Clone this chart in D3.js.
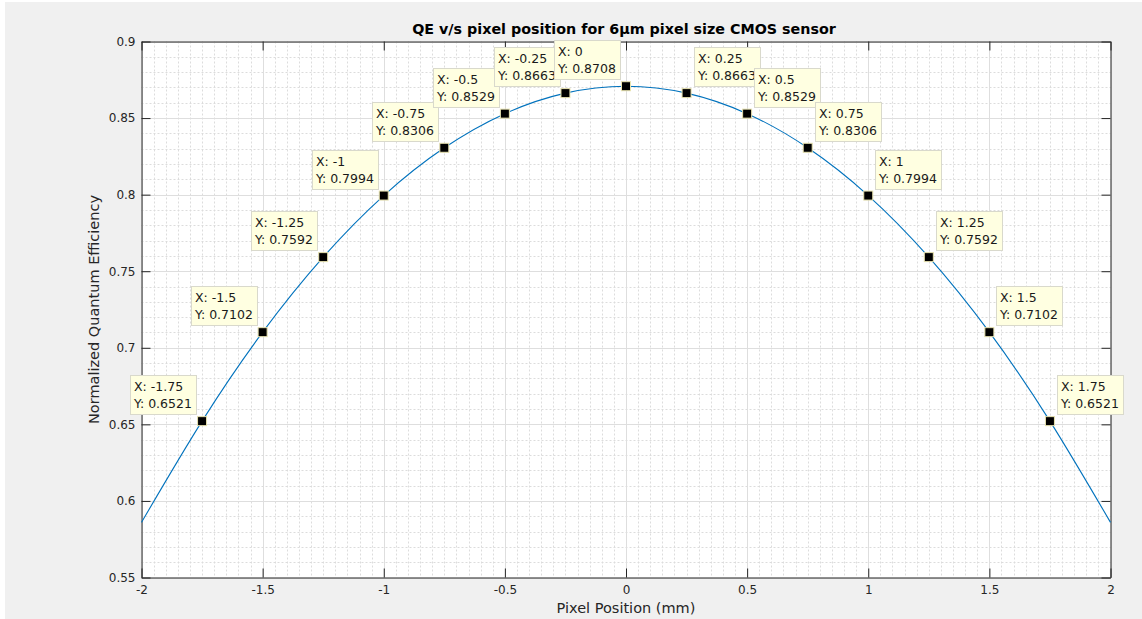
<!DOCTYPE html>
<html>
<head>
<meta charset="utf-8">
<script src="https://cdn.jsdelivr.net/npm/d3@7"></script>
<style>
  body { margin: 0; background: #fff; }
  text { font-family: "DejaVu Sans", sans-serif; }
</style>
</head>
<body>
<div id="chart"></div>
<script>
// curve samples (ends estimated)
let xVals = [-2, -1.75, -1.5, -1.25, -1, -0.75, -0.5, -0.25, 0, 0.25, 0.5, 0.75, 1, 1.25, 1.5, 1.75, 2];
let yVals = [0.586, 0.6521, 0.7102, 0.7592, 0.7994, 0.8306, 0.8529, 0.8663, 0.8708, 0.8663, 0.8529, 0.8306, 0.7994, 0.7592, 0.7102, 0.6521, 0.586];
// data tips shown on the figure
let tipX = [-1.75, -1.5, -1.25, -1, -0.75, -0.5, -0.25, 0, 0.25, 0.5, 0.75, 1, 1.25, 1.5, 1.75];
let tipY = [0.6521, 0.7102, 0.7592, 0.7994, 0.8306, 0.8529, 0.8663, 0.8708, 0.8663, 0.8529, 0.8306, 0.7994, 0.7592, 0.7102, 0.6521];
let xTicks = [-2, -1.5, -1, -0.5, 0, 0.5, 1, 1.5, 2];
let yTicks = [0.55, 0.6, 0.65, 0.7, 0.75, 0.8, 0.85, 0.9];

let W = 1142, H = 619;
let pLeft = 141.5, pRight = 1110.5, pTop = 41.5, pBottom = 577.5;

let svg = d3.select('#chart').append('svg')
    .attr('width', W)
    .attr('height', H);

svg.append('rect')
    .attr('x', 5).attr('y', 2)
    .attr('width', W - 5).attr('height', H - 2)
    .attr('fill', '#f0f0f0');

let x = d3.scaleLinear().domain([-2, 2]).range([pLeft, pRight]);
let y = d3.scaleLinear().domain([0.55, 0.9]).range([pBottom, pTop]);

svg.append('rect')
    .attr('x', pLeft).attr('y', pTop)
    .attr('width', pRight - pLeft).attr('height', pBottom - pTop)
    .attr('fill', '#fff');

// minor grid
let xMinor = d3.range(-2, 2.0001, 0.05).filter(d => Math.abs(d * 2 - Math.round(d * 2)) > 1e-6);
let yMinor = d3.range(0.55, 0.9001, 0.01).filter(d => Math.abs(d * 20 - Math.round(d * 20)) > 1e-6);
let grid = svg.append('g');
xMinor.forEach(function (d) {
    grid.append('line')
        .attr('x1', Math.round(x(d)) + 0.5).attr('x2', Math.round(x(d)) + 0.5)
        .attr('y1', pTop).attr('y2', pBottom)
        .attr('stroke', '#dcdcdc').attr('stroke-dasharray', '2,2');
});
yMinor.forEach(function (d) {
    grid.append('line')
        .attr('y1', Math.round(y(d)) + 0.5).attr('y2', Math.round(y(d)) + 0.5)
        .attr('x1', pLeft).attr('x2', pRight)
        .attr('stroke', '#dcdcdc').attr('stroke-dasharray', '2,2');
});
// major grid
xTicks.forEach(function (d) {
    grid.append('line')
        .attr('x1', Math.round(x(d)) + 0.5).attr('x2', Math.round(x(d)) + 0.5)
        .attr('y1', pTop).attr('y2', pBottom)
        .attr('stroke', '#dedede');
});
yTicks.forEach(function (d) {
    grid.append('line')
        .attr('y1', Math.round(y(d)) + 0.5).attr('y2', Math.round(y(d)) + 0.5)
        .attr('x1', pLeft).attr('x2', pRight)
        .attr('stroke', '#dedede');
});

// axes (ticks pointing inward, box on all sides)
let fmt = d => String(+d.toFixed(2));
let axB = svg.append('g').attr('transform', 'translate(0,' + pBottom + ')')
    .call(d3.axisBottom(x).tickValues(xTicks).tickFormat(fmt).tickSizeInner(-9).tickSizeOuter(0).tickPadding(8));
let axT = svg.append('g').attr('transform', 'translate(0,' + pTop + ')')
    .call(d3.axisTop(x).tickValues(xTicks).tickFormat('').tickSizeInner(-9).tickSizeOuter(0));
let axL = svg.append('g').attr('transform', 'translate(' + pLeft + ',0)')
    .call(d3.axisLeft(y).tickValues(yTicks).tickFormat(fmt).tickSizeInner(-9).tickSizeOuter(0).tickPadding(6));
let axR = svg.append('g').attr('transform', 'translate(' + pRight + ',0)')
    .call(d3.axisRight(y).tickValues(yTicks).tickFormat('').tickSizeInner(-9).tickSizeOuter(0));
[axB, axT, axL, axR].forEach(function (a) {
    a.selectAll('path, line').attr('stroke', '#262626');
    a.selectAll('text').attr('fill', '#262626').style('font-size', '12px').style('font-family', 'DejaVu Sans, sans-serif');
});

// curve
let line = d3.line()
    .x((d, i) => x(xVals[i]))
    .y((d, i) => y(yVals[i]))
    .curve(d3.curveNatural);
svg.append('path')
    .attr('d', line(xVals))
    .attr('fill', 'none')
    .attr('stroke', '#0072bd')
    .attr('stroke-width', 1.1);

// data tips
let tips = svg.append('g');
tipX.forEach(function (d, i) {
    let px = x(d), py = y(tipY[i]);
    let g = tips.append('g');
    let box = g.append('rect').attr('fill', '#ffffe1').attr('stroke', '#d9d9cc');
    let t1 = g.append('text').text('X: ' + d).attr('font-size', '12.5px').attr('fill', '#1a1a1a');
    let t2 = g.append('text').text('Y: ' + tipY[i].toFixed(4)).attr('font-size', '12.5px').attr('fill', '#1a1a1a');
    let w = Math.max(t1.node().getComputedTextLength(), t2.node().getComputedTextLength()) + 8;
    let h = 39;
    let bx = d <= 0 ? px - 6 - w : px + 7;
    let by = py - 7 - h;
    box.attr('x', Math.round(bx) + 0.5).attr('y', Math.round(by) + 0.5).attr('width', Math.round(w)).attr('height', h);
    t1.attr('x', Math.round(bx) + 4).attr('y', Math.round(by) + 16);
    t2.attr('x', Math.round(bx) + 4).attr('y', Math.round(by) + 33);
    g.append('rect')
        .attr('x', px - 4.5).attr('y', py - 4.5)
        .attr('width', 9).attr('height', 9)
        .attr('fill', '#000').attr('stroke', '#e8e3b0').attr('stroke-width', 1);
});

// titles
svg.append('text')
    .attr('x', 624).attr('y', 34)
    .attr('text-anchor', 'middle')
    .attr('font-size', '14.3px').attr('font-weight', 'bold').attr('fill', '#000')
    .text('QE v/s pixel position for 6µm pixel size CMOS sensor');
svg.append('text')
    .attr('x', (pLeft + pRight) / 2).attr('y', 613)
    .attr('text-anchor', 'middle')
    .attr('font-size', '14.5px').attr('fill', '#262626')
    .text('Pixel Position (mm)');
svg.append('text')
    .attr('transform', 'translate(99,' + ((pTop + pBottom) / 2) + ') rotate(-90)')
    .attr('text-anchor', 'middle')
    .attr('font-size', '14.5px').attr('fill', '#262626')
    .text('Normalized Quantum Efficiency');
</script>
</body>
</html>
